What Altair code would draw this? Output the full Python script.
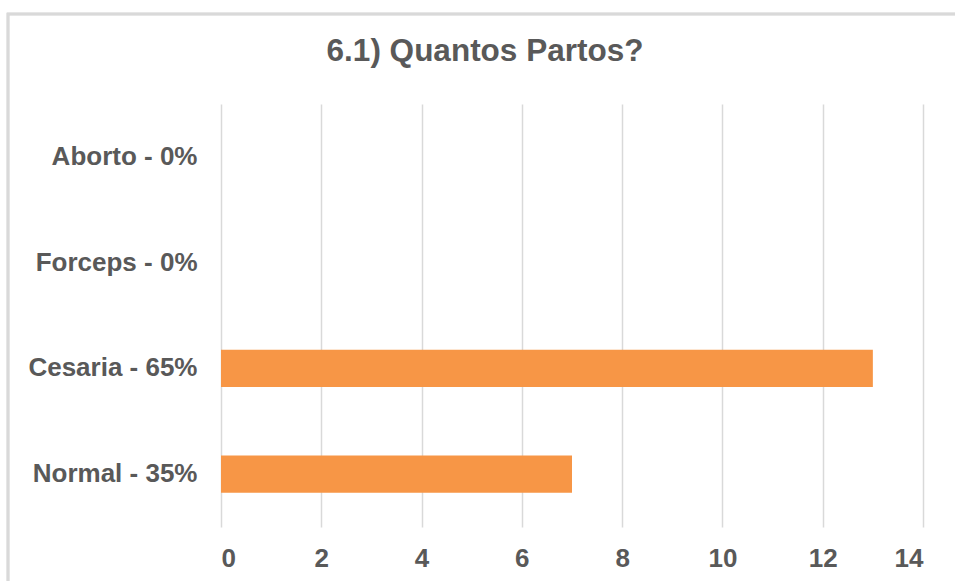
import altair as alt
import pandas as pd

categories = ["Aborto - 0%", "Forceps - 0%", "Cesaria - 65%", "Normal - 35%"]
counts = [0, 0, 13, 7]
x_ticks = [0, 2, 4, 6, 8, 10, 12, 14]
title_text = ["6.1) Quantos Partos?"]

df = pd.DataFrame({"tipo": categories, "partos": counts})
title_df = pd.DataFrame({"titulo": title_text})

GRAY_TEXT = "#595959"
GRID = "#D9D9D9"
FONT = "Liberation Sans"

bars = alt.Chart(df).mark_bar(color="#F79646").encode(
    x=alt.X(
        "partos:Q",
        scale=alt.Scale(domain=[0, 14], nice=False),
        axis=alt.Axis(
            values=x_ticks,
            title=None,
            grid=True,
            gridColor=GRID,
            gridWidth=1.5,
            domain=False,
            ticks=False,
            labelFont=FONT,
            labelFontSize=26,
            labelFontWeight="bold",
            labelColor=GRAY_TEXT,
            labelPadding=18,
        ),
    ),
    y=alt.Y(
        "tipo:N",
        sort=categories,
        scale=alt.Scale(paddingInner=0.646, paddingOuter=0.323),
        axis=alt.Axis(
            title=None,
            domain=False,
            ticks=False,
            labelFont=FONT,
            labelFontSize=26,
            labelFontWeight="bold",
            labelColor=GRAY_TEXT,
            labelPadding=24,
            labelLimit=300,
        ),
    ),
)

# light outer frame around the whole chart
frame = alt.Chart(df).mark_rect(
    fill=None, stroke=GRID, strokeWidth=2.5
).encode(
    x=alt.value(-213), x2=alt.value(752),
    y=alt.value(-90), y2=alt.value(490),
)

# chart heading, centred on the outer frame
heading = alt.Chart(title_df).mark_text(
    font=FONT,
    fontSize=31.5,
    fontWeight="bold",
    color=GRAY_TEXT,
    align="center",
    baseline="middle",
).encode(
    text="titulo:N",
    x=alt.value(264),
    y=alt.value(-52),
)

chart = alt.layer(frame, bars, heading).properties(
    width=702,
    height=423,
    autosize=alt.AutoSizeParams(type="none"),
    padding={"left": 221, "top": 104, "right": 32, "bottom": 54},
).configure_view(stroke=None)

chart.save("out.html", embed_options={"renderer": "svg", "actions": False})
